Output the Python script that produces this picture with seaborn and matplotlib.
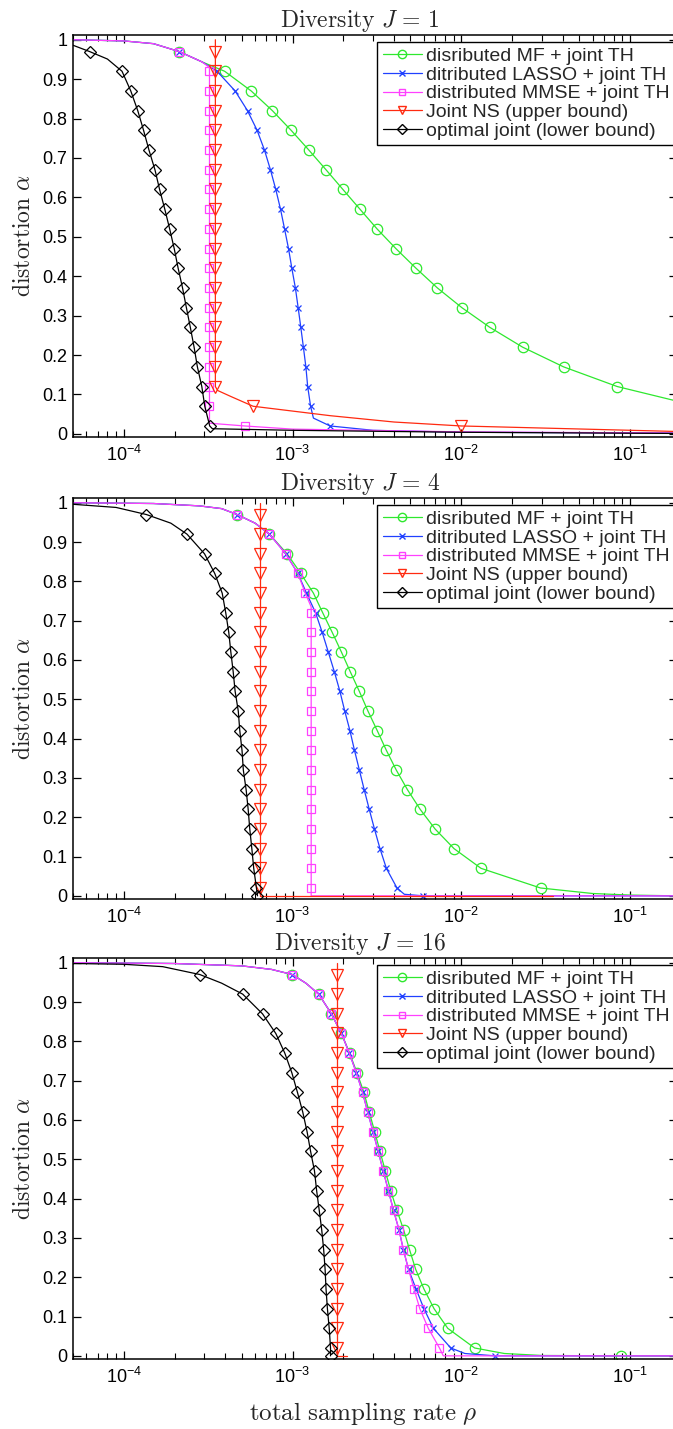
import matplotlib
matplotlib.use("Agg")
import matplotlib.pyplot as plt
from matplotlib.lines import Line2D
from matplotlib.ticker import LogLocator, NullFormatter
import pandas as pd
import seaborn as sns

sns.set_theme(style="white")
plt.rcParams["font.family"] = ["Liberation Sans", "DejaVu Sans"]
plt.rcParams["mathtext.fontset"] = "cm"

# marker levels of the distortion alpha
GRID = [0.97, 0.92, 0.87, 0.82, 0.77, 0.72, 0.67, 0.62, 0.57, 0.52,
        0.47, 0.42, 0.37, 0.32, 0.27, 0.22, 0.17, 0.12, 0.07, 0.02]
GRID0 = GRID + [0.0]

LABELS = ["disributed MF + joint TH", "ditributed LASSO + joint TH",
          "distributed MMSE + joint TH", "Joint NS (upper bound)",
          "optimal joint (lower bound)"]
TITLES = [r"$\mathrm{Diversity}\ J\,=\,1$", r"$\mathrm{Diversity}\ J\,=\,4$",
          r"$\mathrm{Diversity}\ J\,=\,16$"]
Y_TICKS = [0, 0.1, 0.2, 0.3, 0.4, 0.5, 0.6, 0.7, 0.8, 0.9, 1]
X_TICKS = [1e-4, 1e-3, 1e-2, 1e-1]

# ---- J = 1 ----
J1_MF_RHO = [2.13e-4, 3.96e-4, 5.69e-4, 7.60e-4, 9.82e-4, 1.25e-3, 1.58e-3, 1.99e-3, 2.51e-3,
             3.17e-3, 4.10e-3, 5.40e-3, 7.23e-3, 1.01e-2, 1.48e-2, 2.31e-2, 4.04e-2, 8.41e-2]
J1_MF_ALPHA = GRID[:18]
J1_MF_PATH_RHO = [5e-5, 1e-4, 1.5e-4, 2.9e-4, 0.19]
J1_MF_PATH_ALPHA = [1.0, 0.997, 0.99, 0.944, 0.083]

J1_LASSO_RHO = [2.13e-4, 3.57e-4, 4.57e-4, 5.41e-4, 6.17e-4, 6.82e-4, 7.40e-4, 7.96e-4, 8.49e-4, 8.97e-4,
                9.47e-4, 9.91e-4, 1.04e-3, 1.08e-3, 1.12e-3, 1.16e-3, 1.20e-3, 1.23e-3, 1.28e-3, 1.67e-3]
J1_LASSO_ALPHA = GRID
J1_LASSO_PATH_RHO = [5e-5, 1e-4, 1.5e-4, 2.9e-4, 1.33e-3, 3e-3, 1e-2, 0.19]
J1_LASSO_PATH_ALPHA = [1.0, 0.997, 0.99, 0.944, 0.04, 0.009, 0.004, 0.002]

J1_MMSE_RHO = [2.13e-4] + [3.22e-4] * 18 + [5.21e-4]
J1_MMSE_ALPHA = GRID
J1_MMSE_PATH_RHO = [5e-5, 1e-4, 1.5e-4, 2.9e-4, 3.22e-4, 3.22e-4, 1e-3, 1e-2, 0.19]
J1_MMSE_PATH_ALPHA = [1.0, 0.997, 0.99, 0.944, 0.93, 0.027, 0.012, 0.005, 0.002]

J1_NS_RHO = [3.49e-4] * 18 + [5.84e-4, 1.0e-2]
J1_NS_ALPHA = GRID
J1_NS_PATH_RHO = [3.49e-4, 3.6e-4, 4.3e-4, 1.68e-3, 4e-3, 0.19]
J1_NS_PATH_ALPHA = [1.0, 0.11, 0.095, 0.046, 0.030, 0.006]

J1_OPT_RHO = [6.27e-5, 9.76e-5, 1.10e-4, 1.21e-4, 1.31e-4, 1.41e-4, 1.53e-4, 1.63e-4, 1.75e-4, 1.87e-4,
              1.99e-4, 2.10e-4, 2.23e-4, 2.35e-4, 2.48e-4, 2.61e-4, 2.73e-4, 2.90e-4, 3.02e-4, 3.23e-4]
J1_OPT_ALPHA = GRID
J1_OPT_PATH_RHO = [5e-5, 8e-5, 3.35e-4, 1e-3, 1e-2, 0.19]
J1_OPT_PATH_ALPHA = [0.986, 0.951, 0.013, 0.009, 0.004, 0.001]

# ---- J = 4 ----
J4_MF_RHO = [4.69e-4, 7.30e-4, 9.29e-4, 1.12e-3, 1.33e-3, 1.51e-3, 1.72e-3, 1.95e-3, 2.20e-3, 2.49e-3,
             2.80e-3, 3.18e-3, 3.60e-3, 4.12e-3, 4.80e-3, 5.71e-3, 7.00e-3, 9.07e-3, 1.31e-2, 2.95e-2]
J4_MF_ALPHA = GRID
J4_MF_PATH_RHO = [5e-5, 1.5e-4, 2.8e-4, 3.8e-4, 6.0e-4, 6e-2, 0.1, 0.19]
J4_MF_PATH_ALPHA = [1.0, 0.998, 0.992, 0.985, 0.948, 0.006, 0.002, 0.0]

J4_LASSO_RHO = [4.69e-4, 7.30e-4, 9.12e-4, 1.076e-3, 1.21e-3, 1.37e-3, 1.50e-3, 1.63e-3, 1.77e-3, 1.91e-3,
                2.04e-3, 2.19e-3, 2.33e-3, 2.49e-3, 2.66e-3, 2.85e-3, 3.06e-3, 3.30e-3, 3.60e-3, 4.16e-3, 5.97e-3]
J4_LASSO_ALPHA = GRID0
J4_LASSO_PATH_RHO = [5e-5, 1.5e-4, 2.8e-4, 3.8e-4, 6.0e-4, 4.6e-3, 0.19]
J4_LASSO_PATH_ALPHA = [1.0, 0.998, 0.992, 0.985, 0.948, 0.004, 0.0]

J4_MMSE_RHO = [4.69e-4, 7.30e-4, 9.12e-4, 1.076e-3, 1.19e-3] + [1.29e-3] * 15
J4_MMSE_ALPHA = GRID
J4_MMSE_PATH_RHO = [5e-5, 1.5e-4, 2.8e-4, 3.8e-4, 6.0e-4, 1.29e-3, 1.29e-3, 0.19]
J4_MMSE_PATH_ALPHA = [1.0, 0.998, 0.992, 0.985, 0.948, 0.735, 0.0, 0.0]

J4_NS_RHO = [6.46e-4] * 20
J4_NS_ALPHA = GRID
J4_NS_PATH_RHO = [6.46e-4, 6.46e-4, 3.5e-2]
J4_NS_PATH_ALPHA = [1.0, 0.0, 0.0]

J4_OPT_RHO = [1.36e-4, 2.37e-4, 3.01e-4, 3.46e-4, 3.83e-4, 4.02e-4, 4.19e-4, 4.31e-4, 4.45e-4, 4.57e-4,
              4.77e-4, 4.87e-4, 5.02e-4, 5.11e-4, 5.31e-4, 5.46e-4, 5.58e-4, 5.74e-4, 5.89e-4, 6.11e-4, 6.20e-4]
J4_OPT_ALPHA = GRID0
J4_OPT_PATH_RHO = [5e-5, 9e-5, 1.9e-4]
J4_OPT_PATH_ALPHA = [0.996, 0.988, 0.948]

# ---- J = 16 ----
J16_MF_RHO = [9.96e-4, 1.43e-3, 1.70e-3, 1.95e-3, 2.18e-3, 2.41e-3, 2.65e-3, 2.85e-3, 3.07e-3, 3.30e-3,
              3.55e-3, 3.82e-3, 4.16e-3, 4.56e-3, 4.94e-3, 5.37e-3, 6.01e-3, 6.90e-3, 8.32e-3, 1.20e-2, 8.8e-2]
J16_MF_ALPHA = GRID0
J16_MF_PATH_RHO = [5e-5, 2e-4, 5e-4, 7.5e-4, 1.2e-3, 1.8e-2, 3e-2, 0.19]
J16_MF_PATH_ALPHA = [1.0, 0.998, 0.992, 0.983, 0.948, 0.006, 0.001, 0.0]

J16_LASSO_RHO = [9.96e-4, 1.43e-3, 1.70e-3, 1.95e-3, 2.17e-3, 2.39e-3, 2.60e-3, 2.79e-3, 3.00e-3, 3.22e-3,
                 3.45e-3, 3.70e-3, 3.97e-3, 4.28e-3, 4.54e-3, 4.87e-3, 5.40e-3, 6.01e-3, 6.84e-3, 8.67e-3, 1.59e-2]
J16_LASSO_ALPHA = GRID0
J16_LASSO_PATH_RHO = [5e-5, 2e-4, 5e-4, 7.5e-4, 1.2e-3, 1.05e-2, 0.19]
J16_LASSO_PATH_ALPHA = [1.0, 0.998, 0.992, 0.983, 0.948, 0.006, 0.0]

J16_MMSE_RHO = [9.96e-4, 1.43e-3, 1.70e-3, 1.95e-3, 2.17e-3, 2.39e-3, 2.60e-3, 2.79e-3, 3.00e-3, 3.22e-3,
                3.45e-3, 3.70e-3, 3.97e-3, 4.28e-3, 4.54e-3, 4.87e-3, 5.25e-3, 5.68e-3, 6.38e-3, 7.43e-3]
J16_MMSE_ALPHA = GRID
J16_MMSE_PATH_RHO = [5e-5, 2e-4, 5e-4, 7.5e-4, 1.2e-3, 7.83e-3, 0.19]
J16_MMSE_PATH_ALPHA = [1.0, 0.998, 0.992, 0.983, 0.948, 0.0, 0.0]

J16_NS_RHO = [1.84e-3] * 20
J16_NS_ALPHA = GRID
J16_NS_PATH_RHO = [1.84e-3, 1.84e-3, 2.11e-3]
J16_NS_PATH_ALPHA = [1.0, 0.0, 0.0]

J16_OPT_RHO = [2.82e-4, 5.07e-4, 6.64e-4, 7.96e-4, 9.00e-4, 9.91e-4, 1.07e-3, 1.15e-3, 1.22e-3, 1.28e-3,
               1.35e-3, 1.39e-3, 1.44e-3, 1.49e-3, 1.53e-3, 1.56e-3, 1.58e-3, 1.61e-3, 1.65e-3, 1.68e-3, 1.68e-3]
J16_OPT_ALPHA = GRID0
J16_OPT_PATH_RHO = [5e-5, 1e-4, 1.7e-4, 3.8e-4]
J16_OPT_PATH_ALPHA = [0.998, 0.996, 0.99, 0.948]

PANELS = [
    [(J1_MF_RHO, J1_MF_ALPHA, J1_MF_PATH_RHO, J1_MF_PATH_ALPHA),
     (J1_LASSO_RHO, J1_LASSO_ALPHA, J1_LASSO_PATH_RHO, J1_LASSO_PATH_ALPHA),
     (J1_MMSE_RHO, J1_MMSE_ALPHA, J1_MMSE_PATH_RHO, J1_MMSE_PATH_ALPHA),
     (J1_NS_RHO, J1_NS_ALPHA, J1_NS_PATH_RHO, J1_NS_PATH_ALPHA),
     (J1_OPT_RHO, J1_OPT_ALPHA, J1_OPT_PATH_RHO, J1_OPT_PATH_ALPHA)],
    [(J4_MF_RHO, J4_MF_ALPHA, J4_MF_PATH_RHO, J4_MF_PATH_ALPHA),
     (J4_LASSO_RHO, J4_LASSO_ALPHA, J4_LASSO_PATH_RHO, J4_LASSO_PATH_ALPHA),
     (J4_MMSE_RHO, J4_MMSE_ALPHA, J4_MMSE_PATH_RHO, J4_MMSE_PATH_ALPHA),
     (J4_NS_RHO, J4_NS_ALPHA, J4_NS_PATH_RHO, J4_NS_PATH_ALPHA),
     (J4_OPT_RHO, J4_OPT_ALPHA, J4_OPT_PATH_RHO, J4_OPT_PATH_ALPHA)],
    [(J16_MF_RHO, J16_MF_ALPHA, J16_MF_PATH_RHO, J16_MF_PATH_ALPHA),
     (J16_LASSO_RHO, J16_LASSO_ALPHA, J16_LASSO_PATH_RHO, J16_LASSO_PATH_ALPHA),
     (J16_MMSE_RHO, J16_MMSE_ALPHA, J16_MMSE_PATH_RHO, J16_MMSE_PATH_ALPHA),
     (J16_NS_RHO, J16_NS_ALPHA, J16_NS_PATH_RHO, J16_NS_PATH_ALPHA),
     (J16_OPT_RHO, J16_OPT_ALPHA, J16_OPT_PATH_RHO, J16_OPT_PATH_ALPHA)],
]

COLORS = ["#2ee82e", "#2040ff", "#ff40ff", "#ff2a10", "#000000"]
MARKERS = ["o", "x", "s", "v", "D"]
MSIZES = [7.5, 5, 5.5, 8, 6]

W, H = 673, 1429
fig = plt.figure(figsize=(W / 100, H / 100), dpi=100)
# axes boxes in pixels: (top, bottom); left 73, right beyond the figure edge
boxes = [(35, 437), (498, 899), (958, 1359)]

for p, (top, bottom) in enumerate(boxes):
    ax = fig.add_axes([73 / W, 1 - bottom / H, (677 - 73) / W, (bottom - top) / H])
    ax.set_xscale("log")
    for k, (rm, am, rp, ap) in enumerate(PANELS[p]):
        df = pd.DataFrame({"rho": list(rm) + list(rp),
                           "alpha": list(am) + list(ap),
                           "mark": [True] * len(rm) + [False] * len(rp)})
        df = df.sort_values(["rho", "alpha"], ascending=[True, False],
                            kind="mergesort").reset_index(drop=True)
        sns.lineplot(data=df, x="rho", y="alpha", ax=ax, sort=False, estimator=None,
                     color=COLORS[k], linewidth=0.9, marker=MARKERS[k],
                     markersize=MSIZES[k], markerfacecolor="none",
                     markeredgecolor=COLORS[k], markeredgewidth=0.9,
                     markevery=df["mark"].tolist())
    ax.set_xlim(5e-5, 0.19)
    ax.set_ylim(-0.008, 1.012)
    ax.set_xticks(X_TICKS)
    ax.xaxis.set_minor_locator(LogLocator(base=10, subs=[2, 3, 4, 5, 6, 7, 8, 9], numticks=20))
    ax.xaxis.set_minor_formatter(NullFormatter())
    ax.set_yticks(Y_TICKS)
    ax.set_yticklabels([f"{v:g}" for v in Y_TICKS])
    ax.tick_params(which="both", direction="in", top=True, right=True,
                   bottom=True, left=True, colors="black", labelsize=13)
    ax.tick_params(which="major", length=6, width=0.9)
    ax.tick_params(which="minor", length=4, width=0.8)
    ax.tick_params(axis="x", which="major", pad=6)
    ax.tick_params(axis="y", which="major", pad=4)
    for s in ax.spines.values():
        s.set_color("black")
        s.set_linewidth(1.1)
    ax.set_title(TITLES[p], fontsize=17, pad=6, x=0.475)
    ax.set_ylabel(r"$\mathrm{distortion}\ \alpha$", fontsize=17, labelpad=5)
    ax.set_xlabel("")
    if p == 2:
        ax.set_xlabel(r"$\mathrm{total\ sampling\ rate}\ \rho$", fontsize=18, labelpad=9, x=0.48)

    handles = [Line2D([], [], color=COLORS[k], marker=MARKERS[k], markersize=MSIZES[k] * 0.8,
                      markerfacecolor="none", markeredgecolor=COLORS[k], linewidth=0.9)
               for k in range(5)]
    leg = ax.legend(handles, LABELS, loc="upper left", bbox_to_anchor=(0.503, 0.983),
                    fontsize=14, frameon=True, fancybox=False, edgecolor="black",
                    framealpha=1, borderpad=0.3, handlelength=2.0, handletextpad=0.25,
                    labelspacing=0.05, borderaxespad=0, numpoints=1)
    leg.get_frame().set_linewidth(1.0)

fig.savefig("out.png", dpi=100)
